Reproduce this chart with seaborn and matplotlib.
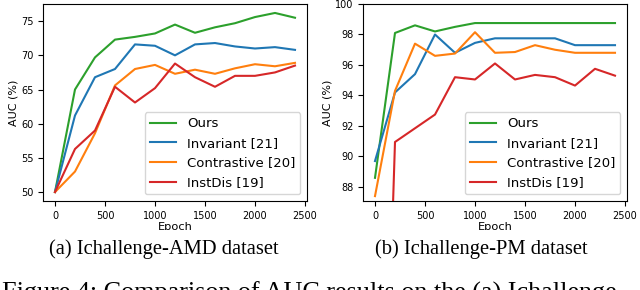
import numpy as np
import pandas as pd
import seaborn as sns
from matplotlib import pyplot as plt
from matplotlib.patches import Rectangle

epochs = [0, 200, 400, 600, 800, 1000, 1200, 1400, 1600, 1800, 2000, 2200, 2400]
methods = ["Ours", "Invariant [21]", "Contrastive [20]", "InstDis [19]"]
colors = ["#2ca02c", "#1f77b4", "#ff7f0e", "#d62728"]

# (a) Ichallenge-AMD
amd_ours = [50.0, 65.0, 69.7, 72.3, 72.7, 73.2, 74.5, 73.3, 74.1, 74.7, 75.6, 76.2, 75.5]
amd_invariant = [50.0, 61.2, 66.8, 68.0, 71.6, 71.4, 70.0, 71.6, 71.8, 71.3, 71.0, 71.2, 70.8]
amd_contrastive = [50.0, 53.0, 58.6, 65.6, 68.0, 68.6, 67.3, 67.9, 67.3, 68.1, 68.7, 68.4, 68.9]
amd_instdis = [50.0, 56.3, 59.0, 65.4, 63.1, 65.2, 68.8, 66.8, 65.4, 67.0, 67.0, 67.5, 68.5]

# (b) Ichallenge-PM
pm_ours = [88.6, 98.1, 98.6, 98.2, 98.5, 98.75, 98.75, 98.75, 98.75, 98.75, 98.75, 98.75, 98.75]
pm_invariant = [89.7, 94.2, 95.4, 98.0, 96.8, 97.45, 97.75, 97.75, 97.75, 97.75, 97.3, 97.3, 97.3]
pm_contrastive = [87.4, 94.3, 97.4, 96.6, 96.75, 98.15, 96.8, 96.85, 97.3, 97.0, 96.8, 96.8, 96.8]
pm_instdis = [50.0, 90.95, 91.85, 92.75, 95.2, 95.05, 96.1, 95.05, 95.35, 95.2, 94.65, 95.75, 95.3]


def to_long(series):
    rows = []
    for name, vals in zip(methods, series):
        for e, v in zip(epochs, vals):
            rows.append({"Epoch": e, "AUC": v, "method": name})
    return pd.DataFrame(rows)


df_amd = to_long([amd_ours, amd_invariant, amd_contrastive, amd_instdis])
df_pm = to_long([pm_ours, pm_invariant, pm_contrastive, pm_instdis])

fig = plt.figure(figsize=(6.4, 2.9), dpi=100)
ax1 = fig.add_axes([43 / 640, 1 - 201 / 290, 264 / 640, 197 / 290])
ax2 = fig.add_axes([363 / 640, 1 - 201 / 290, 264 / 640, 197 / 290])

for ax, df in [(ax1, df_amd), (ax2, df_pm)]:
    sns.lineplot(data=df, x="Epoch", y="AUC", hue="method", hue_order=methods,
                 palette=colors, linewidth=1.5, ax=ax)
    ax.set_xticks([0, 500, 1000, 1500, 2000, 2500])
    ax.tick_params(labelsize=7)
    ax.set_xlabel("Epoch", fontsize=8.2, labelpad=1)
    ax.set_ylabel("AUC (%)", fontsize=8, labelpad=2)
    ax.legend(loc="lower right", fontsize=9.5)

ax1.set_yticks([50, 55, 60, 65, 70, 75])
ax1.set_xlim(-120, 2520)
ax2.set_xlim(-120, 2520)
ax2.set_ylim(87.08, 100)
ax2.set_yticks([88, 90, 92, 94, 96, 98, 100])

# page below the subfigures hides the bottom of the "Epoch" labels
fig.add_artist(Rectangle((0, 0), 1, 1 - 230 / 290, transform=fig.transFigure,
                         facecolor="white", edgecolor="none", zorder=5))

serif = ["Liberation Serif", "DejaVu Serif"]
fig.text(164 / 640, 1 - 254 / 290, "(a) Ichallenge-AMD dataset", ha="center",
         va="baseline", fontsize=14.8, family=serif, zorder=6)
fig.text(481 / 640, 1 - 254 / 290, "(b) Ichallenge-PM dataset", ha="center",
         va="baseline", fontsize=14.8, family=serif, zorder=6)
# figure caption, cut off by the bottom edge as in the page crop
fig.text(2.5 / 640, 1 - 300 / 290, "Figure 4: Comparison of AUC results on the (a) Ichallenge-",
         ha="left", va="baseline", fontsize=18.8, family=serif, zorder=6)

fig.savefig("out.png", dpi=100)
